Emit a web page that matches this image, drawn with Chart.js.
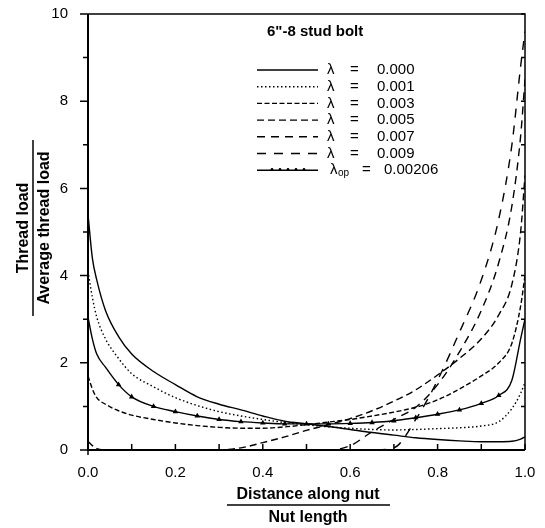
<!DOCTYPE html>
<html>
<head>
<meta charset="utf-8">
<script src="https://cdn.jsdelivr.net/npm/chart.js@4"></script>
<style>
    html, body { margin: 0; padding: 0; background: #fff; }
    #wrap { width: 545px; height: 528px; }
</style>
</head>
<body>
<div id="wrap"><canvas id="threadChart" width="545" height="528"></canvas></div>
<script>
// Distance along nut / nut length
const xPos = [0, 0.01, 0.02, 0.04, 0.07, 0.1, 0.15, 0.2, 0.25, 0.3, 0.35, 0.4, 0.45, 0.5,
              0.55, 0.6, 0.65, 0.7, 0.75, 0.8, 0.85, 0.9, 0.94, 0.97, 0.99, 1.0];

// Thread load / average thread load, one array per lambda
const load000 = [5.4, 4.4, 3.9, 3.2, 2.6, 2.2, 1.8, 1.5, 1.22, 1.05, 0.92, 0.78, 0.66, 0.6,
                 0.54, 0.47, 0.4, 0.34, 0.28, 0.24, 0.21, 0.19, 0.19, 0.2, 0.25, 0.3];
const load001 = [4.1, 3.5, 3.05, 2.55, 2.1, 1.75, 1.45, 1.2, 1.02, 0.88, 0.78, 0.7, 0.63, 0.58,
                 0.53, 0.5, 0.47, 0.46, 0.47, 0.49, 0.51, 0.55, 0.65, 0.95, 1.3, 1.55];
const load003 = [1.7, 1.4, 1.2, 1.05, 0.9, 0.8, 0.7, 0.62, 0.56, 0.52, 0.5, 0.5, 0.53, 0.58,
                 0.64, 0.7, 0.78, 0.87, 0.98, 1.15, 1.4, 1.7, 2.0, 2.45, 3.3, 4.0];
const load005 = [0.2, 0.1, 0.03, 0, 0, 0, 0, 0, 0, 0, 0.05, 0.17, 0.3, 0.45,
                 0.58, 0.72, 0.9, 1.12, 1.38, 1.72, 2.1, 2.55, 3.1, 3.8, 5.0, 6.3];
const load007 = [0, 0, 0, 0, 0, 0, 0, 0, 0, 0, 0, 0, 0, 0,
                 0, 0.1, 0.42, 0.7, 0.98, 1.5, 2.25, 3.2, 4.3, 5.6, 7.2, 8.5];
const load009 = [0, 0, 0, 0, 0, 0, 0, 0, 0, 0, 0, 0, 0, 0,
                 0, 0, 0, 0.05, 0.7, 1.6, 2.7, 3.9, 5.3, 7.0, 8.8, 9.6];
const loadOp  = [3.05, 2.55, 2.2, 1.9, 1.5, 1.22, 1.0, 0.88, 0.78, 0.7, 0.65, 0.62, 0.6, 0.6,
                 0.6, 0.61, 0.63, 0.67, 0.74, 0.82, 0.92, 1.07, 1.25, 1.6, 2.55, 3.0];

const lambdaValues = ['0.000', '0.001', '0.003', '0.005', '0.007', '0.009', '0.00206'];
const xTickLabels = ['0.0', '0.2', '0.4', '0.6', '0.8', '1.0'];
const yTickLabels = ['0', '2', '4', '6', '8', '10'];

const FONT = '"Liberation Sans", Arial, sans-serif';

function toPoints(ys) {
    return xPos.map((x, i) => ({ x: x, y: ys[i] }));
}

function lineSet(ys, dash, extra) {
    return Object.assign({
        data: toPoints(ys),
        borderColor: '#000',
        backgroundColor: '#000',
        borderWidth: 1.4,
        borderDash: dash,
        pointRadius: 0,
        cubicInterpolationMode: 'monotone',
        fill: false
    }, extra || {});
}

const datasets = [
    lineSet(load000, []),
    lineSet(load001, [1.5, 2.5]),
    lineSet(load003, [5, 2.5]),
    lineSet(load005, [7, 4]),
    lineSet(load007, [8, 6]),
    lineSet(load009, [9, 8]),
    lineSet(loadOp, [], {
        pointStyle: 'triangle',
        pointRadius: ctx => {
            const x = xPos[ctx.dataIndex];
            return (x >= 0.07 && x <= 0.94) ? 1.8 : 0;
        }
    })
];

// frame, tick marks, axis titles and the in-plot legend
const decorPlugin = {
    id: 'decor',
    afterDraw(chart) {
        const { ctx, chartArea: a, scales } = chart;
        const xs = scales.x, ys = scales.y;
        ctx.save();
        ctx.strokeStyle = '#000';
        ctx.fillStyle = '#000';

        // frame
        ctx.lineWidth = 2;
        ctx.beginPath();
        ctx.moveTo(a.left, a.top);
        ctx.lineTo(a.left, a.bottom);
        ctx.lineTo(a.right, a.bottom);
        ctx.stroke();
        ctx.lineWidth = 1.5;
        ctx.beginPath();
        ctx.moveTo(a.left, a.top);
        ctx.lineTo(a.right, a.top);
        ctx.lineTo(a.right, a.bottom);
        ctx.stroke();

        // y ticks: outward on the left, inward on the right
        ctx.lineWidth = 1.5;
        for (let v = 0; v <= 10; v++) {
            const py = ys.getPixelForValue(v);
            const len = v % 2 === 0 ? 8 : 5;
            ctx.beginPath();
            ctx.moveTo(a.left - len, py);
            ctx.lineTo(a.left, py);
            ctx.moveTo(a.right - 4, py);
            ctx.lineTo(a.right, py);
            ctx.stroke();
        }
        // x ticks: inward from the bottom
        for (let i = 0; i <= 10; i++) {
            const px = xs.getPixelForValue(i / 10);
            ctx.beginPath();
            ctx.moveTo(px, a.bottom);
            ctx.lineTo(px, a.bottom - 6);
            ctx.stroke();
        }
        ctx.beginPath();
        ctx.moveTo(a.left, a.bottom);
        ctx.lineTo(a.left, a.bottom + 5);
        ctx.stroke();

        // y axis title as a fraction
        ctx.save();
        ctx.translate(33, 228);
        ctx.rotate(-Math.PI / 2);
        ctx.font = 'bold 16px ' + FONT;
        ctx.textAlign = 'center';
        ctx.textBaseline = 'alphabetic';
        ctx.fillText('Thread load', 0, -5);
        ctx.fillText('Average thread load', 0, 16);
        ctx.lineWidth = 1.5;
        ctx.beginPath();
        ctx.moveTo(-88, 0);
        ctx.lineTo(88, 0);
        ctx.stroke();
        ctx.restore();

        // x axis title as a fraction
        ctx.font = 'bold 16px ' + FONT;
        ctx.textAlign = 'center';
        ctx.textBaseline = 'alphabetic';
        ctx.fillText('Distance along nut', 308, 499);
        ctx.fillText('Nut length', 308, 522);
        ctx.lineWidth = 1.5;
        ctx.beginPath();
        ctx.moveTo(227, 505);
        ctx.lineTo(390, 505);
        ctx.stroke();

        // legend
        ctx.font = 'bold 15px ' + FONT;
        ctx.textAlign = 'left';
        ctx.textBaseline = 'middle';
        ctx.fillText('6"-8 stud bolt', 267, 32);

        ctx.font = '15px ' + FONT;
        lambdaValues.forEach((val, i) => {
            const ds = chart.data.datasets[i];
            const ry = 70 + i * 16.7;
            ctx.save();
            ctx.lineWidth = 1.4;
            ctx.setLineDash(ds.borderDash);
            ctx.beginPath();
            ctx.moveTo(257, ry);
            ctx.lineTo(318, ry);
            ctx.stroke();
            ctx.restore();
            if (i === 6) {
                for (let k = 0; k < 5; k++) {
                    ctx.beginPath();
                    ctx.arc(272 + k * 8, ry - 1, 1.3, 0, Math.PI * 2);
                    ctx.fill();
                }
                ctx.fillText('\u03bb', 330, ry);
                ctx.font = '10px ' + FONT;
                ctx.fillText('op', 338, ry + 3);
                ctx.font = '15px ' + FONT;
                ctx.fillText('=', 362, ry);
                ctx.fillText(val, 384, ry);
            } else {
                ctx.fillText('\u03bb', 327, ry);
                ctx.fillText('=', 350, ry);
                ctx.fillText(val, 377, ry);
            }
        });

        ctx.restore();
    }
};

new Chart(document.getElementById('threadChart'), {
    type: 'line',
    data: { datasets: datasets },
    options: {
        responsive: false,
        animation: false,
        layout: { padding: { top: 14, right: 20, bottom: 48, left: 0 } },
        plugins: {
            legend: { display: false },
            tooltip: { enabled: false }
        },
        scales: {
            x: {
                type: 'linear',
                min: 0,
                max: 1,
                grid: { display: false },
                border: { display: false },
                afterFit: s => { s.height = 30; s.paddingLeft = 0; s.paddingRight = 0; },
                ticks: {
                    stepSize: 0.2,
                    padding: 6,
                    color: '#000',
                    font: { family: FONT, size: 15 },
                    maxRotation: 0,
                    callback: v => xTickLabels[Math.round(v * 5)]
                }
            },
            y: {
                type: 'linear',
                min: 0,
                max: 10,
                grid: { display: false },
                border: { display: false },
                afterFit: s => { s.width = 88; s.paddingTop = 0; s.paddingBottom = 0; },
                ticks: {
                    stepSize: 2,
                    padding: 12,
                    color: '#000',
                    font: { family: FONT, size: 15 },
                    callback: v => yTickLabels[Math.round(v / 2)]
                }
            }
        }
    },
    plugins: [decorPlugin]
});
</script>
</body>
</html>
